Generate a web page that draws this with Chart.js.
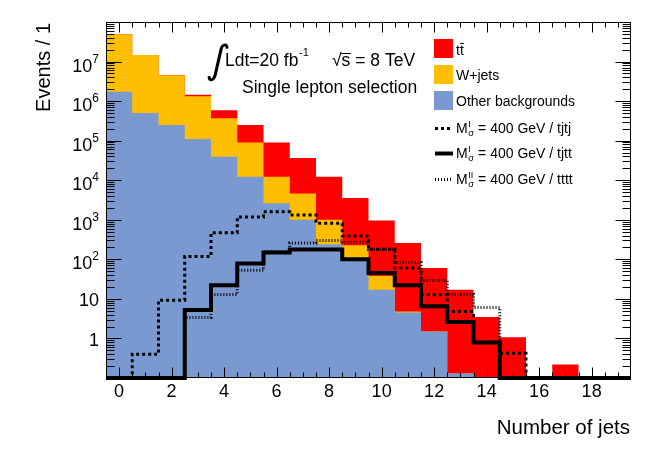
<!DOCTYPE html>
<html>
<head>
<meta charset="utf-8">
<script src="https://cdn.jsdelivr.net/npm/chart.js@4.4.0/dist/chart.umd.min.js"></script>
<style>
html,body{margin:0;padding:0;background:#fff;}
#wrap{width:664px;height:450px;position:relative;}
</style>
</head>
<body>
<div id="wrap"><canvas id="c"></canvas></div>
<script>
// ---------------- data ----------------
const nJets = [0,1,2,3,4,5,6,7,8,9,10,11,12,13,14,15,16,17,18,19];
const otherBkg = [1.73e6,5.0e5,2.5e5,1.1e5,3.9e4,1.23e4,2.6e3,1.0e3,2.4e2,1.07e2,17,4.5,1.5,0.13,0,0,0,0,0,0];
const wJets    = [4.72e7,1.42e7,4.25e6,1.22e6,3.3e5,7.7e4,9.7e3,3.6e3,7.6e2,1.2e2,21,0.3,0,0,0,0,0,0,0,0];
const ttbar    = [5e3,2e4,8e4,1.2e5,2.2e5,1.6e5,7.7e4,3.2e4,1.13e4,3.3e3,9.2e2,2.55e2,59,17,3.5,1.07,0,0.22,0,0];
const sigTjtj  = [0,0.40,9.3,118,470,1180,1600,1330,820,390,180,60,12.7,4.8,0.8,0.42,0,0,0,0];
const sigTjtt  = [0,0,0,5.2,22,78,148,178,178,100,45,22,6.5,2.6,0.79,0,0,0,0,0];
const sigTttt  = [0,0,0,3.4,13,53,158,260,300,270,180,83,29,13,6.1,0,0,0,0,0];

const xTickLabels = ['0','2','4','6','8','10','12','14','16','18'];
const yTickBases  = ['1','10','10','10','10','10','10','10'];
const yTickExps   = ['','','2','3','4','5','6','7'];
const fillLabels  = ['tt','W+jets','Other backgrounds'];
const sigSups     = ['I','I','II'];
const sigNames    = ['400 GeV / tjtj','400 GeV / tjtt','400 GeV / tttt'];

const X_MIN = -0.5, X_MAX = 19.5, Y_MIN = 0.1, Y_MAX = 1e8;

const COL_TT = '#ff0000', COL_W = '#ffbf00', COL_O = 'rgb(122,153,208)';
const FONT = '"Liberation Sans", Arial, Helvetica, sans-serif';

// ---------------- build histogram points ----------------
function histPoints(vals){
  const pts = [];
  vals.forEach((v,i)=>pts.push({x:nJets[i]-0.5, y: v>0 ? v : Y_MIN}));
  const last = vals[vals.length-1];
  pts.push({x:nJets[nJets.length-1]+0.5, y: last>0 ? last : Y_MIN});
  return pts;
}
const cumO = otherBkg.slice();
const cumW = otherBkg.map((v,i)=>v+wJets[i]);
const cumT = cumW.map((v,i)=>v+ttbar[i]);

function fillDs(vals,color,order){
  return {data:histPoints(vals), stepped:'before', fill:'start', backgroundColor:color,
    borderColor:'rgba(0,0,0,0)', borderWidth:0, pointRadius:0, order:order};
}
function lineDs(vals,w,dash,order){
  return {data:histPoints(vals), stepped:'before', fill:false, borderColor:'#000',
    borderWidth:w, borderDash:dash, pointRadius:0, order:order, clip:false,
    borderCapStyle:'butt', borderJoinStyle:'miter'};
}
const DASH_TJTJ = [3,3], DASH_TTTT = [1,2];

// ---------------- decorations plugin ----------------
function txt(ctx,s,x,y,size,align){
  ctx.font = size+'px '+FONT; ctx.textAlign = align||'left'; ctx.textBaseline='alphabetic';
  ctx.fillText(s,x,y); return ctx.measureText(s).width;
}
const deco = {
  id:'deco',
  afterDraw(chart){
    const ctx = chart.ctx, a = chart.chartArea, xs = chart.scales.x, ys = chart.scales.y;
    ctx.save();
    ctx.fillStyle = '#000'; ctx.strokeStyle = '#000'; ctx.lineWidth = 1;
    const L = Math.round(a.left)+0.5, R = Math.round(a.right)-0.5, T = Math.round(a.top)+0.5, B = Math.round(a.bottom)-0.5;
    ctx.strokeRect(L, T, R-L, B-T);
    // x ticks
    ctx.beginPath();
    for(let v = X_MIN+0.5; v < X_MAX; v += 0.5){
      const px = Math.round(xs.getPixelForValue(v))+0.5;
      const len = (Math.abs(v % 2) < 1e-9) ? 10 : 5;
      ctx.moveTo(px,B); ctx.lineTo(px,B-len);
      ctx.moveTo(px,T); ctx.lineTo(px,T+len);
    }
    // y ticks
    for(let d = -1; d <= 7; d++){
      for(let k = 1; k <= 9; k++){
        const v = k*Math.pow(10,d);
        if(v <= Y_MIN*1.0001 || v >= Y_MAX*0.9999) continue;
        const py = Math.round(ys.getPixelForValue(v))+0.5;
        const len = (k===1) ? 15 : 8;
        ctx.moveTo(L,py); ctx.lineTo(L+len,py);
        ctx.moveTo(R,py); ctx.lineTo(R-len,py);
      }
    }
    ctx.stroke();
    // x tick labels
    xTickLabels.forEach(s=>{
      txt(ctx,s,xs.getPixelForValue(Number(s)),397,18,'center');
    });
    // y tick labels
    yTickBases.forEach((b,i)=>{
      const py = ys.getPixelForValue(Math.pow(10,i));
      const e = yTickExps[i];
      if(e){
        ctx.font = '12px '+FONT; const we = ctx.measureText(e).width;
        txt(ctx,e,99-we,py+1,12,'left');
        txt(ctx,b,99-we,py+10,18,'right');
      } else {
        txt(ctx,b,99,py+7.5,18,'right');
      }
    });
    // axis titles
    txt(ctx,'Number of jets',630,434,20.5,'right');
    ctx.save(); ctx.translate(50,23); ctx.rotate(-Math.PI/2);
    txt(ctx,'Events / 1',0,0,20,'right'); ctx.restore();

    // integral + luminosity text
    ctx.font = '40px "DejaVu Sans"';
    let m = ctx.measureText('\u222B');
    const h0 = m.actualBoundingBoxAscent + m.actualBoundingBoxDescent;
    const fs = 40*39/h0;
    ctx.font = fs+'px "DejaVu Sans"'; ctx.textAlign='left';
    m = ctx.measureText('\u222B');
    const iw = m.actualBoundingBoxRight + m.actualBoundingBoxLeft;
    ctx.save();
    ctx.translate(216.5, 43 + m.actualBoundingBoxAscent);
    ctx.transform(1,0,-0.18,1,0,0);
    ctx.fillText('\u222B', -iw/2 + m.actualBoundingBoxLeft, 0);
    ctx.restore();
    let wx = txt(ctx,'Ldt=20 fb',225,66,17.5,'left');
    txt(ctx,'-1',225+wx+0.5,56,11,'left');
    // sqrt(s)
    let sx = 332;
    const wr = txt(ctx,'\u221A',sx,66,17.5,'left');
    const wsS = txt(ctx,'s',sx+wr,66,17.5,'left');
    ctx.beginPath(); ctx.lineWidth = 1;
    ctx.moveTo(sx+wr-0.5,53.5); ctx.lineTo(sx+wr+wsS+0.5,53.5); ctx.stroke();
    txt(ctx,' = 8 TeV',sx+wr+wsS,66,17.5,'left');
    txt(ctx,'Single lepton selection',242,93,17.5,'left');

    // legend
    const boxX = 434, boxW = 19;
    const boxYs = [39,65,91], boxCols = [COL_TT,COL_W,COL_O], textYs = [55,80,106];
    fillLabels.forEach((lab,i)=>{
      ctx.fillStyle = boxCols[i]; ctx.fillRect(boxX,boxYs[i],boxW,boxW);
      ctx.fillStyle = '#000';
      const w = txt(ctx,lab,456,textYs[i],14,'left');
      if(i===0){
        ctx.font = '14px '+FONT; const wt = ctx.measureText('t').width;
        ctx.beginPath(); ctx.lineWidth = 1;
        ctx.moveTo(456+wt+0.3,43.5); ctx.lineTo(456+2*wt,43.5); ctx.stroke();
      }
    });
    const lineYs = [128.5,153.5,179.5], lineTextYs = [133,158,184];
    const lw = [3,4,3], ld = [DASH_TJTJ,[],DASH_TTTT];
    sigNames.forEach((nm,i)=>{
      ctx.save(); ctx.lineWidth = lw[i]; ctx.setLineDash(ld[i]); ctx.lineCap='butt';
      ctx.beginPath(); ctx.moveTo(435,lineYs[i]); ctx.lineTo(453,lineYs[i]); ctx.stroke(); ctx.restore();
      let x = 456;
      x += txt(ctx,'M',x,lineTextYs[i],14,'left');
      const w1 = txt(ctx,sigSups[i],x+0.5,lineTextYs[i]-6,9,'left');
      const w2 = txt(ctx,'\u03C3',x+0.5,lineTextYs[i]+3,9,'left');
      x += Math.max(w1,w2)+1;
      txt(ctx,' = '+nm,x,lineTextYs[i],14,'left');
    });
    ctx.restore();
  }
};

// ---------------- chart ----------------
new Chart(document.getElementById('c'),{
  type:'line',
  data:{datasets:[
    lineDs(sigTttt,3,DASH_TTTT,0),
    lineDs(sigTjtj,3,DASH_TJTJ,1),
    lineDs(sigTjtt,4,[],2),
    fillDs(cumO,COL_O,3),
    fillDs(cumW,COL_W,4),
    fillDs(cumT,COL_TT,5)
  ]},
  options:{
    responsive:true, maintainAspectRatio:false, animation:false, events:[],
    layout:{padding:{left:106,top:22,right:33,bottom:72}},
    scales:{
      x:{type:'linear',min:X_MIN,max:X_MAX,display:false},
      y:{type:'logarithmic',min:Y_MIN,max:Y_MAX,display:false}
    },
    plugins:{legend:{display:false},tooltip:{enabled:false}}
  },
  plugins:[deco]
});
</script>
</body>
</html>
